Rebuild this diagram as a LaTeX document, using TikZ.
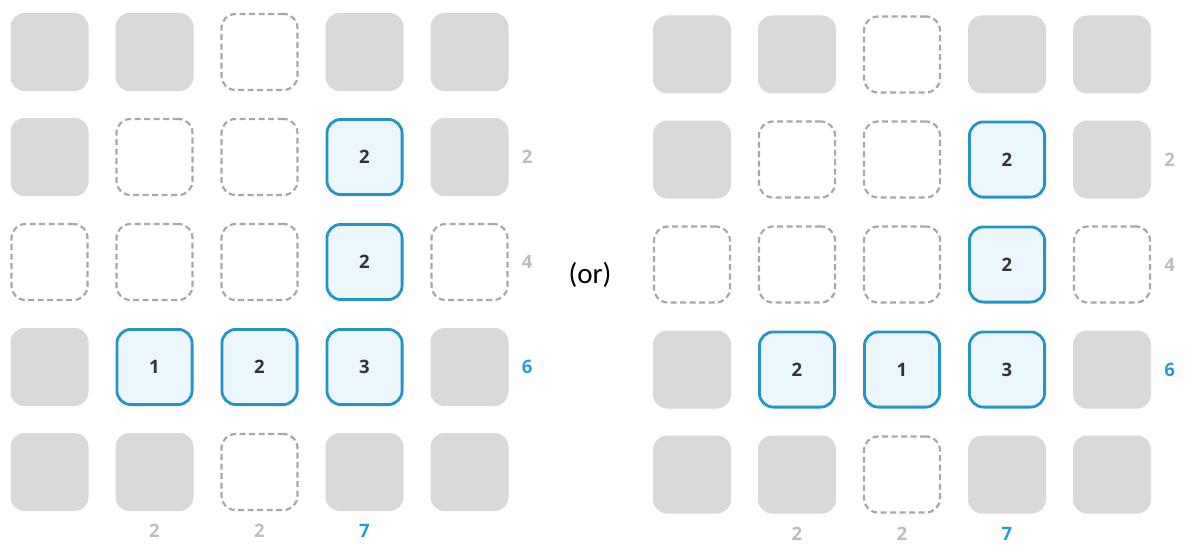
\documentclass[tikz,border=0pt]{standalone}
\usepackage{fontspec}
\setmainfont{Open Sans}
\newfontfamily\orfont{Carlito}
\usetikzlibrary{positioning}
\definecolor{cellgray}{HTML}{D9D9D9}
\definecolor{dashgray}{HTML}{A8A8A8}
\definecolor{pickblue}{HTML}{2593C6}
\definecolor{pickfill}{HTML}{EBF6FD}
\definecolor{numdark}{HTML}{333333}
\definecolor{sumgray}{HTML}{BDBDBD}
\definecolor{sumblue}{HTML}{2A9BD0}
\begin{document}
\begin{tikzpicture}[x=1pt,y=-1pt]

\tikzset{cell/.style = {shape=rectangle, rounded corners=14pt, minimum size=78pt, inner sep=0pt}}
\tikzset{full/.style = {cell, fill=cellgray}}
\tikzset{open/.style = {cell, minimum size=76pt, draw=dashgray, line width=2.2pt, dash pattern=on 6pt off 3.5pt}}
\tikzset{pick/.style = {cell, minimum size=75.2pt, draw=pickblue, fill=pickfill, line width=2.8pt, text=numdark, font=\bfseries\fontsize{18.5}{18.5}\selectfont}}
\tikzset{sum/.style = {inner sep=0pt, text=sumgray, font=\bfseries\fontsize{18.5}{18.5}\selectfont}}
\tikzset{goal/.style = {sum, text=sumblue}}
\useasboundingbox (0,0) rectangle (1200,551);
% grids
\foreach \g/\dx/\dy/\pa/\pb in {L/0/0/1/2, R/642.5/2.5/2/1} {
  \foreach [count=\r] \row in {
      {full/{},full/{},open/{},full/{},full/{}},
      {full/{},open/{},open/{},pick/2,full/{}},
      {open/{},open/{},open/{},pick/2,open/{}},
      {full/{},pick/\pa,pick/\pb,pick/3,full/{}},
      {full/{},full/{},open/{},full/{},full/{}}}
    \foreach [count=\c] \s/\t in \row
      \node[\s] (\g\r\c) at ({\dx+49.5+105*(\c-1)}, {\dy+52+105*(\r-1)}) {\t};
  % row sums
  \node[sum, right=13pt of \g25] {2};
  \node[sum, right=13pt of \g35] {4};
  \node[goal, right=13pt of \g45] {6};
  % column sums
  \node[sum, below=13pt of \g52] {2};
  \node[sum, below=13pt of \g53] {2};
  \node[goal, below=13pt of \g54] {7};
}
\node[font=\orfont\fontsize{29}{29}\selectfont] (or) at (590,275) {(or)};
\end{tikzpicture}
\end{document}
